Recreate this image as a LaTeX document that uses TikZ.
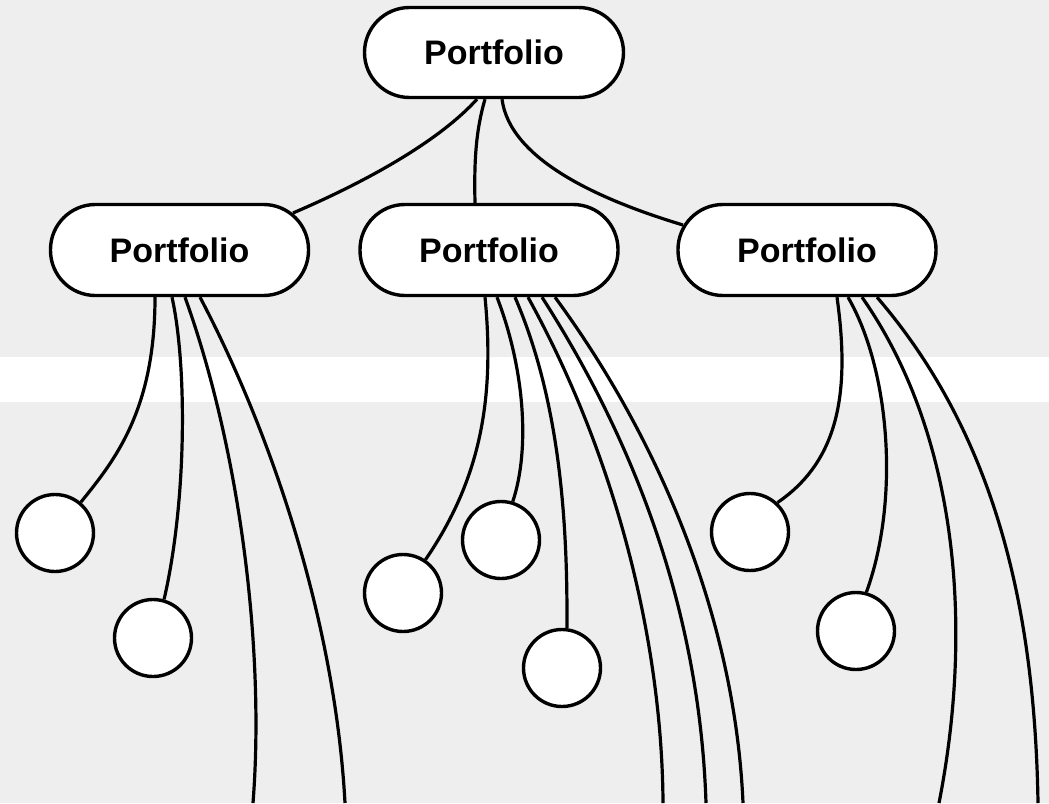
\documentclass[tikz,border=0pt]{standalone}
\usepackage{fontspec}
\setmainfont{Liberation Sans}
\usetikzlibrary{calc}
\definecolor{bgpanel}{HTML}{EEEEEE}
\begin{document}
\begin{tikzpicture}[x=1pt,y=-1pt,
  pill/.style={draw=black, line width=3.4pt, fill=white, rounded corners=45pt,
    minimum width=258pt, minimum height=91pt, inner sep=0pt,
    font=\bfseries\fontsize{34}{40}\selectfont},
  leaf/.style={circle, draw=black, line width=3.4pt, fill=white,
    minimum size=77pt, inner sep=0pt},
  link/.style={draw=black, line width=3.2pt}]
\useasboundingbox (0,0) rectangle (1049,803);
\clip (0,0) rectangle (1049,803);
\fill[bgpanel] (0,0) rectangle (1049,803);
\fill[white] (0,357) rectangle (1049,402);

% nodes
\node[pill, minimum width=259pt, minimum height=90pt] (top) at (494,52.5) {Portfolio};
\node[pill] (ml) at (179.5,250) {Portfolio};
\node[pill] (mc) at (489,250) {Portfolio};
\node[pill] (mr) at (807,250) {Portfolio};

\node[leaf] (c1) at (55,533) {};
\node[leaf] (c2) at (153,638) {};
\node[leaf] (ca) at (403,593) {};
\node[leaf] (cb) at (501,540) {};
\node[leaf] (cc) at (562,668) {};
\node[leaf] (cd) at (750,532) {};
\node[leaf] (ce) at (856,631) {};

\coordinate (b1) at (253,803);
\coordinate (b2) at (345,803);
\coordinate (b3) at (663,803);
\coordinate (b4) at (706,803);
\coordinate (b5) at (743,803);
\coordinate (b6) at (939,803);
\coordinate (b7) at (1038,803);

% top to middle
\draw[link] ($(top.south)+(-17,0)$) .. controls (440,140) and (370,180) .. ($(ml.center)+(113.5,-37)$);
\draw[link] ($(top.south)+(-9,0)$) .. controls (476,130) and (474,160) .. ($(mc.north)+(-14,0)$);
\draw[link] ($(top.south)+(8,0)$) .. controls (510,160) and (600,200) .. ($(mr.center)+(-124,-25)$);

% middle left
\draw[link] ($(ml.south)+(-24.5,0)$) .. controls (155,410) and (115,460) .. (c1.50);
\draw[link] ($(ml.south)+(-7.5,0)$) .. controls (187,365) and (187,500) .. (c2.74);
\draw[link] ($(ml.south)+(5.5,0)$) .. controls (240,450) and (265,650) .. (b1);
\draw[link] ($(ml.south)+(20.5,0)$) .. controls (270,430) and (335,620) .. (b2);

% middle centre
\draw[link] ($(mc.south)+(-4,0)$) .. controls (495,400) and (480,480) .. (ca.56);
\draw[link] ($(mc.south)+(8,0)$) .. controls (525,370) and (530,450) .. (cb.73);
\draw[link] ($(mc.south)+(26,0)$) .. controls (555,390) and (568,500) .. (cc.83);
\draw[link] ($(mc.south)+(39,0)$) .. controls (615,455) and (662,640) .. (b3);
\draw[link] ($(mc.south)+(53,0)$) .. controls (640,450) and (700,620) .. (b4);
\draw[link] ($(mc.south)+(66,0)$) .. controls (660,440) and (735,620) .. (b5);

% middle right
\draw[link] ($(mr.south)+(30,0)$) .. controls (850,390) and (840,460) .. (cd.47);
\draw[link] ($(mr.south)+(41,0)$) .. controls (890,370) and (900,500) .. (ce.75);
\draw[link] ($(mr.south)+(55,0)$) .. controls (955,430) and (975,620) .. (b6);
\draw[link] ($(mr.south)+(70,0)$) .. controls (1000,440) and (1035,620) .. (b7);
\end{tikzpicture}
\end{document}
